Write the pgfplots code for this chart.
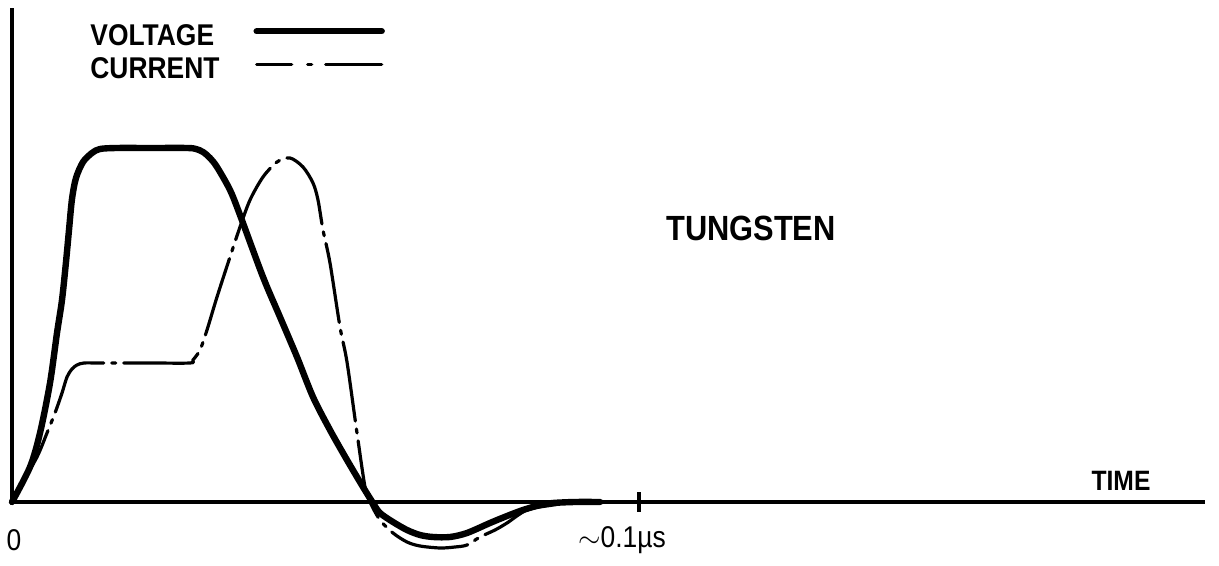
\documentclass[border=0pt]{standalone}
\usepackage{fontspec}
\usepackage{pgfplots}
\pgfplotsset{compat=1.18}
\setmainfont{Liberation Sans}
\newfontfamily\lbl{Liberation Sans}[FakeStretch=0.88]

% curves; x: time (0.1 us = 627), y: arbitrary
\pgfplotstableread{
x y
0 0
18 35
28 69
38 119
45 169
50 202
54 240
57 272
60 303
64 324
71 340
80 349
88 353
105 354
138 354
175 354
184 353
191 350
198 344
205 335
218 312
228 287
251 225
268 185
285 145
301 105
318 72
335 42
351 15
361 -1
368 -11
381 -20
395 -28
408 -33
421 -35
438 -35
455 -31
478 -21
495 -14
511 -8
528 -3
541 -1
563 0
588 0
}\voltage

\pgfplotstableread{
x y
0 0
8 15
25 45
35 69
43 89
50 109
55 125
60 133
65 137
72 139
88 139
138 139
178 139
181 142
188 152
195 172
205 205
218 245
228 275
238 302
251 325
265 340
278 344
291 335
301 319
306 302
311 272
318 239
328 175
335 140
345 69
353 15
358 0
368 -18
381 -31
395 -40
408 -44
428 -46
443 -45
455 -43
468 -35
483 -28
495 -21
515 -8
541 -3
563 0
}\current

\begin{document}
\begin{tikzpicture}
\begin{axis}[
    at={(6pt,32pt)}, anchor=south west,
    scale only axis, width=596.5pt, height=247pt,
    xmin=0, xmax=1193, ymin=0, ymax=494,
    clip=false,
    axis lines=left,
    axis line style={-, line width=1.6pt},
    ytick=\empty,
    xtick={627},
    xticklabels={{$\sim$0.1µs}},
    xticklabel style={font=\lbl\fontsize{15}{18}\selectfont, anchor=center, xshift=-8.5pt, yshift=-14pt},
    extra x ticks={0},
    extra x tick labels={0},
    extra x tick style={tick style={draw=none}, xticklabel style={xshift=9.5pt}},
    tick align=center,
    major tick length=10pt,
    tick style={line width=1.6pt, black},
    legend image code/.code={\draw[#1] (0pt,1.5pt) -- (62.5pt,1.5pt);},
    legend style={draw=none, fill=none, at={(0.0654,0.970)}, anchor=north west,
        legend cell align=left, legend plot pos=right,
        column sep=17pt, row sep=5.5pt, inner sep=0pt,
        nodes={inner sep=0pt, text height=11pt, text depth=0pt,
               font=\lbl\bfseries\fontsize{15}{18}\selectfont}},
]
\addlegendimage{line width=3.2pt, line cap=round}
\addlegendentry{VOLTAGE}
\addlegendimage{line width=1.6pt, line cap=round, dash pattern=on 17.5pt off 8pt on 2pt off 7pt on 30pt}
\addlegendentry{CURRENT}

\addplot[black, line width=3.2pt, smooth, tension=0.5, line cap=round] table {\voltage};
\addplot[black, line width=1.6pt, smooth, tension=0.5, line cap=round,
    dash pattern=on 40pt off 4pt on 2pt off 4pt] table {\current};

\node[font=\lbl\bfseries\fontsize{17.5}{20}\selectfont] at (axis cs:739,274) {TUNGSTEN};
\node[font=\lbl\bfseries\fontsize{14}{16}\selectfont] at (axis cs:1109,21) {TIME};
\end{axis}
\pgfresetboundingbox
\path[use as bounding box] (0,0) rectangle (609.5pt,283pt);
\end{tikzpicture}
\end{document}
